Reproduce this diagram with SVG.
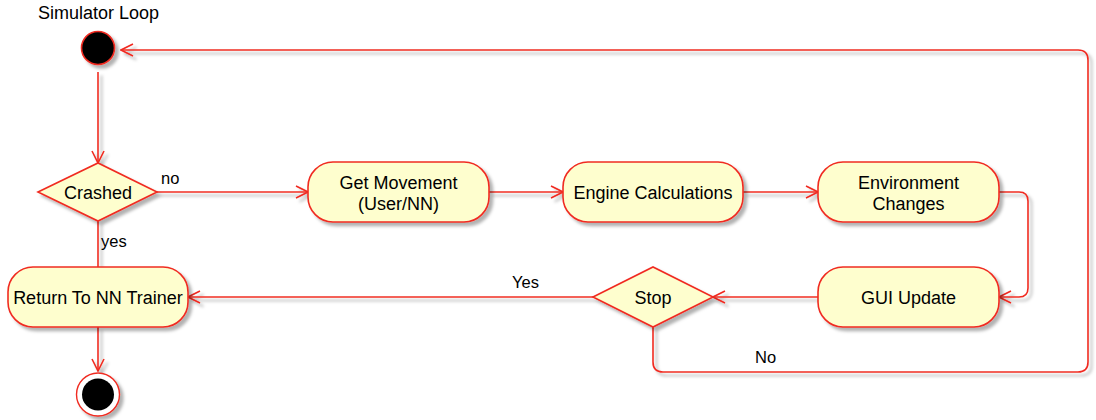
<svg xmlns="http://www.w3.org/2000/svg" width="1096" height="420" viewBox="0 0 1096 420">
<defs>
<filter id="sh" filterUnits="userSpaceOnUse" x="0" y="0" width="1096" height="420">
<feDropShadow dx="3.5" dy="3.5" stdDeviation="1.5" flood-color="#000" flood-opacity="0.3"/>
</filter>
<marker id="arr" viewBox="0 0 14 14" refX="13" refY="7" markerWidth="14" markerHeight="14" markerUnits="userSpaceOnUse" orient="auto">
<path d="M1,1 L13,7 L1,13" fill="none" stroke="#F02B20" stroke-width="1.6"/>
</marker>
</defs>
<style>
.node{fill:#FEFECE;stroke:#F02B20;stroke-width:1.6;filter:url(#sh)}
.t{font-family:"Liberation Sans",Arial,sans-serif;font-size:18px;fill:#000;text-anchor:middle}
.l{font-family:"Liberation Sans",Arial,sans-serif;font-size:16.5px;fill:#000}
.c{fill:none;stroke:#F02B20;stroke-width:1.6;filter:url(#sh)}
</style>
<rect width="1096" height="420" fill="#fff"/>
<text class="l" x="38" y="19" style="font-size:18px">Simulator Loop</text>

<g id="connectors">
<path class="c" d="M98,72 V163" marker-end="url(#arr)"/>
<path class="c" d="M157,192 H308" marker-end="url(#arr)"/>
<path class="c" d="M489,192 H563" marker-end="url(#arr)"/>
<path class="c" d="M743,192 H818" marker-end="url(#arr)"/>
<path class="c" d="M999,192 H1019 Q1028,192 1028,201 V288 Q1028,297 1019,297 H999" marker-end="url(#arr)"/>
<path class="c" d="M818,297 H713" marker-end="url(#arr)"/>
<path class="c" d="M593,297 H188" marker-end="url(#arr)"/>
<path class="c" d="M653,327 V362 Q653,372 663,372 H1078 Q1088,372 1088,362 V60 Q1088,50 1078,50 H121" marker-end="url(#arr)"/>
<path class="c" d="M98,221 V267"/>
<path class="c" d="M98,327 V371" marker-end="url(#arr)"/>
<text class="l" x="161" y="184">no</text>
<text class="l" x="101" y="247">yes</text>
<text class="l" x="512" y="288">Yes</text>
<text class="l" x="755" y="363">No</text>
</g>

<g id="start">
<circle cx="98" cy="48" r="16.5" fill="#000" stroke="#F02B20" stroke-width="1.6" filter="url(#sh)"/>
</g>

<g id="crashed">
<polygon class="node" points="38,192 98,163 157,192 98,221"/>
<text class="t" x="98" y="198.5">Crashed</text>
</g>

<g id="get-movement">
<rect class="node" x="308" y="162" width="181" height="60" rx="25" ry="25"/>
<text class="t" x="398.5" y="189">Get Movement</text>
<text class="t" x="398.5" y="210">(User/NN)</text>
</g>

<g id="engine">
<rect class="node" x="563" y="162" width="180" height="60" rx="25" ry="25"/>
<text class="t" x="653" y="198.5">Engine Calculations</text>
</g>

<g id="environment">
<rect class="node" x="818" y="162" width="181" height="60" rx="25" ry="25"/>
<text class="t" x="908.5" y="189">Environment</text>
<text class="t" x="908.5" y="210">Changes</text>
</g>

<g id="gui">
<rect class="node" x="818" y="267" width="181" height="60" rx="25" ry="25"/>
<text class="t" x="908.5" y="303.5">GUI Update</text>
</g>

<g id="stop">
<polygon class="node" points="593,297 653,267 713,297 653,327"/>
<text class="t" x="653" y="303.5">Stop</text>
</g>

<g id="return">
<rect class="node" x="8" y="267" width="180" height="60" rx="25" ry="25"/>
<text class="t" x="98" y="303.5">Return To NN Trainer</text>
</g>

<g id="end">
<circle cx="98" cy="394.5" r="21.5" fill="#fff" stroke="#F02B20" stroke-width="1.4" filter="url(#sh)"/>
<circle cx="98" cy="394.5" r="16" fill="#000"/>
</g>
</svg>
